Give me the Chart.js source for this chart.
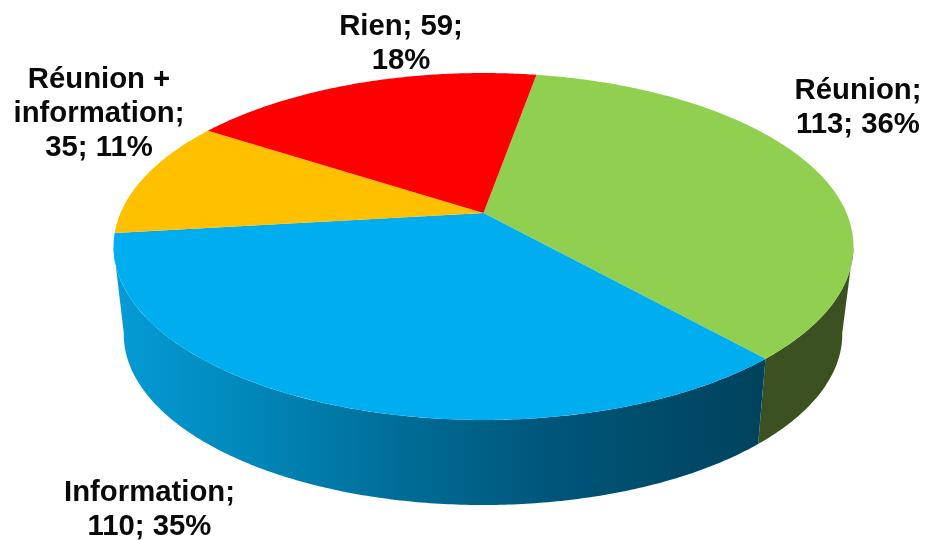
<!DOCTYPE html>
<html>
<head>
<meta charset="utf-8">
<style>
  html, body { margin: 0; background: #fff; }
  canvas { display: block; }
</style>
<script src="https://cdn.jsdelivr.net/npm/chart.js@4"></script>
</head>
<body>
<canvas id="pie" width="938" height="540"></canvas>
<script>
const categories = ["Réunion", "Information", "Réunion + information", "Rien"];
const values = [113, 110, 35, 59];
const percents = [36, 35, 11, 18];
const colors = ["#91cf50", "#00aeef", "#ffc000", "#ff0000"];

// how each label wraps, {v} and {p} come from the arrays above
const labelRows = [
  ["Réunion;", "{v}; {p}%"],
  ["Information;", "{v}; {p}%"],
  ["Réunion +", "information;", "{v}; {p}%"],
  ["Rien; {v};", "{p}%"],
];
const labelSpots = [
  { x: 858, y: 90.5 },
  { x: 149.5, y: 492.5 },
  { x: 99, y: 79.5 },
  { x: 401, y: 26.5 },
];

// top face and bottom face of the disc, seen in perspective
const topFace = { cx: 483.5, cy: 213, rx: 363, ry: 167, k: 0.193 };
const bottomFace = { cx: 483, cy: 300, rx: 352, ry: 164, k: 0.2 };

function project(face, angle) {
  const u = Math.cos(angle);
  const v = Math.sin(angle);
  const w = 1 - face.k * v;
  return { x: face.cx + (face.rx * u) / w, y: face.cy + (face.ry * v) / w };
}

function traceArc(ctx, face, from, to) {
  const steps = Math.max(2, Math.ceil(Math.abs(to - from) / 0.01));
  for (let i = 0; i <= steps; i++) {
    const p = project(face, from + ((to - from) * i) / steps);
    ctx.lineTo(p.x, p.y);
  }
}

function wallFill(ctx, index) {
  if (index === 0) return "#3c5122";
  const g = ctx.createLinearGradient(118, 0, 760, 0);
  g.addColorStop(0, "#059bd5");
  g.addColorStop(0.2, "#0088ba");
  g.addColorStop(0.44, "#006d97");
  g.addColorStop(0.67, "#00567a");
  g.addColorStop(0.87, "#004a68");
  g.addColorStop(1, "#00435e");
  return g;
}

function drawWalls(ctx, arcs) {
  // only the part of the rim facing the viewer shows
  const frontFrom = Math.asin(topFace.k);
  const frontTo = Math.PI - frontFrom;
  arcs.forEach((arc, i) => {
    const from = Math.max(arc.startAngle, frontFrom);
    const to = Math.min(arc.endAngle, frontTo);
    if (to <= from) return;
    ctx.beginPath();
    traceArc(ctx, topFace, from, to);
    traceArc(ctx, bottomFace, to, from);
    ctx.closePath();
    ctx.fillStyle = wallFill(ctx, i);
    ctx.fill();
  });
}

function drawFaces(ctx, arcs) {
  arcs.forEach((arc, i) => {
    ctx.beginPath();
    ctx.moveTo(topFace.cx, topFace.cy);
    traceArc(ctx, topFace, arc.startAngle, arc.endAngle);
    ctx.closePath();
    ctx.fillStyle = colors[i];
    ctx.fill();
  });
}

function drawLabels(ctx) {
  ctx.font = "bold 29.3px 'Liberation Sans', Arial, sans-serif";
  ctx.fillStyle = "#0a0a0a";
  ctx.textAlign = "center";
  ctx.textBaseline = "middle";
  labelRows.forEach((rows, i) => {
    rows.forEach((row, r) => {
      const text = row.replace("{v}", values[i]).replace("{p}", percents[i]);
      ctx.fillText(text, labelSpots[i].x, labelSpots[i].y + r * 34);
    });
  });
}

const perspectivePie = {
  id: "perspectivePie",
  beforeDatasetsDraw(chart) {
    const arcs = chart.getDatasetMeta(0).data;
    drawWalls(chart.ctx, arcs);
    drawFaces(chart.ctx, arcs);
    return false;
  },
  afterDraw(chart) {
    drawLabels(chart.ctx);
  },
};

new Chart(document.getElementById("pie"), {
  type: "pie",
  data: {
    labels: categories,
    datasets: [{ data: values, backgroundColor: colors, borderWidth: 0 }],
  },
  options: {
    responsive: false,
    animation: false,
    rotation: 10,
    plugins: {
      legend: { display: false },
      tooltip: { enabled: false },
    },
  },
  plugins: [perspectivePie],
});
</script>
</body>
</html>
